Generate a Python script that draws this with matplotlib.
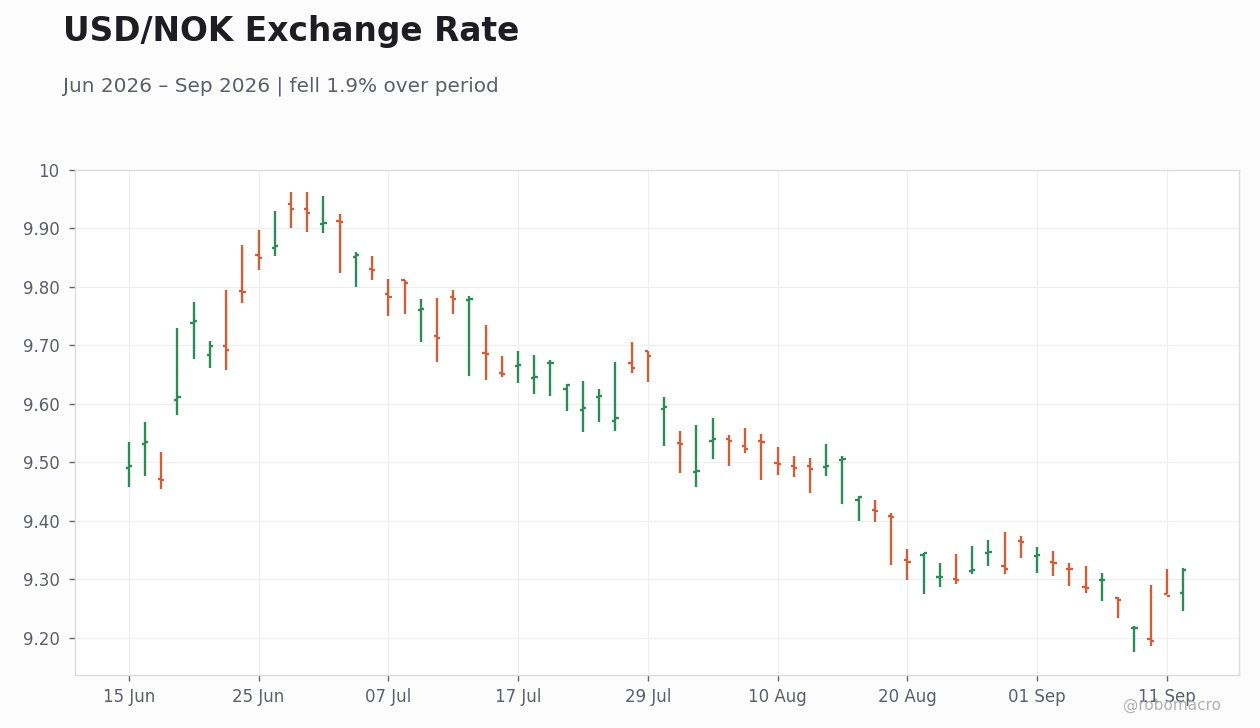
import numpy as np
import pandas as pd
import matplotlib
matplotlib.use('Agg')
import matplotlib.pyplot as plt

# OHLC values, one per business day from 15 Jun 2026
opens = [9.490, 9.531, 9.471, 9.607, 9.738, 9.684, 9.699, 9.793, 9.854, 9.866,
         9.942, 9.933, 9.908, 9.913, 9.851, 9.831, 9.787, 9.812, 9.760, 9.716,
         9.782, 9.778, 9.687, 9.653, 9.665, 9.644, 9.669, 9.626, 9.590, 9.612,
         9.571, 9.669, 9.691, 9.591, 9.533, 9.483, 9.537, 9.540, 9.527, 9.536,
         9.499, 9.493, 9.493, 9.492, 9.503, 9.436, 9.418, 9.408, 9.332, 9.342,
         9.303, 9.301, 9.314, 9.345, 9.322, 9.366, 9.339, 9.330, 9.318, 9.286,
         9.298, 9.267, 9.216, 9.197, 9.274, 9.277]
highs = [9.534, 9.568, 9.517, 9.729, 9.774, 9.707, 9.794, 9.872, 9.898, 9.929,
         9.962, 9.962, 9.955, 9.924, 9.859, 9.853, 9.813, 9.812, 9.779, 9.781,
         9.795, 9.784, 9.735, 9.682, 9.690, 9.683, 9.675, 9.634, 9.639, 9.625,
         9.671, 9.706, 9.691, 9.612, 9.553, 9.564, 9.576, 9.547, 9.559, 9.548,
         9.526, 9.511, 9.507, 9.531, 9.511, 9.442, 9.436, 9.413, 9.352, 9.345,
         9.328, 9.343, 9.357, 9.367, 9.381, 9.374, 9.355, 9.348, 9.328, 9.323,
         9.310, 9.270, 9.219, 9.290, 9.318, 9.319]
lows = [9.458, 9.476, 9.455, 9.580, 9.677, 9.662, 9.658, 9.773, 9.829, 9.852,
        9.901, 9.894, 9.893, 9.824, 9.799, 9.812, 9.751, 9.754, 9.706, 9.672,
        9.754, 9.648, 9.641, 9.645, 9.636, 9.617, 9.614, 9.587, 9.552, 9.569,
        9.554, 9.653, 9.638, 9.527, 9.482, 9.458, 9.505, 9.494, 9.516, 9.469,
        9.479, 9.474, 9.448, 9.477, 9.428, 9.399, 9.397, 9.325, 9.299, 9.275,
        9.286, 9.291, 9.308, 9.323, 9.308, 9.337, 9.310, 9.306, 9.289, 9.277,
        9.262, 9.234, 9.176, 9.185, 9.274, 9.245]
closes = [9.494, 9.534, 9.470, 9.612, 9.742, 9.699, 9.692, 9.791, 9.849, 9.870,
          9.933, 9.926, 9.910, 9.911, 9.855, 9.829, 9.783, 9.807, 9.762, 9.713,
          9.780, 9.780, 9.685, 9.651, 9.667, 9.646, 9.670, 9.633, 9.592, 9.614,
          9.576, 9.662, 9.682, 9.595, 9.531, 9.485, 9.539, 9.536, 9.523, 9.534,
          9.497, 9.491, 9.489, 9.494, 9.505, 9.441, 9.416, 9.407, 9.330, 9.344,
          9.304, 9.298, 9.316, 9.347, 9.318, 9.363, 9.341, 9.327, 9.317, 9.284,
          9.299, 9.265, 9.217, 9.195, 9.272, 9.316]

dates = pd.bdate_range('2026-06-15', periods=len(opens))
yticks = [9.2, 9.3, 9.4, 9.5, 9.6, 9.7, 9.8, 9.9, 10.0]

up_col = '#2e8b57'
down_col = '#cd5f3b'
txt_col = '#5c5f68'

fig = plt.figure(figsize=(12.6, 7.28), dpi=100, facecolor='#fcfcfc')
ax = fig.add_axes([0.0595, 0.0728, 0.9238, 0.6937])
ax.set_facecolor('white')

x = np.arange(len(opens))
w = 0.2
for i in x:
    c = up_col if closes[i] >= opens[i] else down_col
    ax.plot([i, i], [lows[i], highs[i]], color=c, lw=1.7, solid_capstyle='butt')
    ax.plot([i - w, i], [opens[i], opens[i]], color=c, lw=1.7, solid_capstyle='butt')
    ax.plot([i, i + w], [closes[i], closes[i]], color=c, lw=1.7, solid_capstyle='butt')

ax.set_xlim(-3.32, 68.45)
ax.set_ylim(9.136, 10.0)

ax.set_xticks(x[::8])
ax.set_xticklabels(dates[::8].strftime('%d %b'))
ax.set_yticks(yticks)
ax.set_yticklabels(['10' if v == 10 else '%.2f' % v for v in yticks])

ax.grid(True, color='#eeeeee', lw=0.8)
ax.set_axisbelow(True)
for s in ax.spines.values():
    s.set_color('#dddddd')
    s.set_linewidth(1)
ax.tick_params(colors='#666666', labelcolor=txt_col, labelsize=12, length=4, width=1)
ax.tick_params(axis='y', pad=7)
ax.tick_params(axis='x', pad=5)

fig.text(0.05, 0.957, 'USD/NOK Exchange Rate', fontsize=23.7, fontweight='bold',
         color='#1d1d22', va='center')
fig.text(0.05, 0.882, 'Jun 2026 \u2013 Sep 2026 | fell 1.9% over period', fontsize=14.4,
         color=txt_col, va='center')
fig.text(0.969, 0.031, '@robomacro', fontsize=11, color='#b0b0b4', ha='right', va='center')

fig.savefig('out.png', dpi=100, facecolor=fig.get_facecolor())
